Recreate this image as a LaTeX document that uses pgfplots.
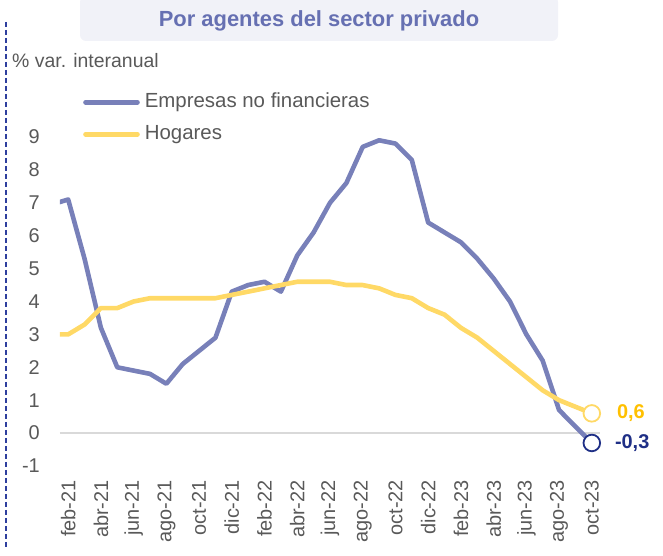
\documentclass[border=0pt]{standalone}
\usepackage{pgfplots}
\pgfplotsset{compat=1.18}
\usepackage{fontspec}
\setmainfont{Liberation Sans}
\definecolor{blueline}{HTML}{7880B9}
\definecolor{yellowline}{HTML}{FFD966}
\definecolor{titlecol}{HTML}{6670B2}
\definecolor{titlebox}{HTML}{F1F2F8}
\definecolor{navy}{HTML}{1F2F86}
\definecolor{orangelab}{HTML}{FFC000}
\definecolor{txt}{HTML}{595959}
\definecolor{dashcol}{HTML}{2E3F9E}
\definecolor{zeroline}{HTML}{D9D9D9}
\begin{document}
\begin{tikzpicture}
\path[use as bounding box] (0,0) rectangle (663bp,556bp);
% title box
\fill[titlebox, rounded corners=6bp] (80bp,515bp) rectangle (558bp,560bp);
\node[font=\fontsize{22}{24}\selectfont\bfseries, text=titlecol, anchor=base] at (319bp,529bp) {Por agentes del sector privado};
% dashed vertical line
\draw[dashcol, line width=1.3bp, dash pattern=on 5bp off 3bp] (6bp,534bp) -- (6bp,8bp);
% y label
\node[font=\fontsize{19.5}{22}\selectfont, text=txt, anchor=west, inner sep=0pt] at (12bp,495bp) {\% var. interanual};
\begin{axis}[
  at={(60bp,90bp)}, anchor=south west,
  scale only axis, width=540bp, height=329bp,
  xmin=-0.5, xmax=32.5, ymin=-1, ymax=9,
  axis line style={draw=none},
  clip=true,
  xtick={0,2,...,32},
  xticklabels={feb-21,abr-21,jun-21,ago-21,oct-21,dic-21,feb-22,abr-22,jun-22,ago-22,oct-22,dic-22,feb-23,abr-23,jun-23,ago-23,oct-23},
  ytick={-1,0,...,9},
  yticklabels={-1,0,1,2,3,4,5,6,7,8,9},
  major tick length=0pt,
  tick style={draw=none},
  xtick pos=bottom, ytick pos=left,
  tick label style={font=\fontsize{20}{22}\selectfont, text=txt},
  xticklabel style={rotate=90, anchor=east, inner sep=0pt},
  xticklabel shift=14bp,
  yticklabel style={anchor=east, inner sep=0pt},
  yticklabel shift=20bp,
  legend cell align=left,
  legend style={at={(axis description cs:0.0426,1.1337)}, anchor=north west, draw=none, fill=none,
    inner sep=0pt, row sep=14bp, column sep=5bp,
    font=\fontsize{20.5}{22}\selectfont, text=txt,
    nodes={inner sep=0pt, text height=14bp, text depth=4bp}},
  legend image code/.code={\draw[#1, line cap=round] (0bp,0bp) -- (52bp,0bp);},
]
\draw[zeroline, line width=1.8bp] (axis cs:-0.5,0) -- (axis cs:32.5,0);
\addplot[blueline, line width=4.6bp, line join=round] coordinates {
(-1,6.95)(0,7.1)(1,5.3)(2,3.2)(3,2.0)(4,1.9)(5,1.8)(6,1.5)(7,2.1)(8,2.5)(9,2.9)
(10,4.3)(11,4.5)(12,4.6)(13,4.3)(14,5.4)(15,6.1)(16,7.0)(17,7.6)(18,8.7)(19,8.9)
(20,8.8)(21,8.3)(22,6.4)(23,6.1)(24,5.8)(25,5.3)(26,4.7)(27,4.0)(28,3.0)(29,2.2)
(30,0.7)(31,0.2)(32,-0.3)};
\addlegendentry{Empresas no financieras}
\addplot[yellowline, line width=4.6bp, line join=round] coordinates {
(-1,3.0)(0,3.0)(1,3.3)(2,3.8)(3,3.8)(4,4.0)(5,4.1)(6,4.1)(7,4.1)(8,4.1)(9,4.1)
(10,4.2)(11,4.3)(12,4.4)(13,4.5)(14,4.6)(15,4.6)(16,4.6)(17,4.5)(18,4.5)(19,4.4)
(20,4.2)(21,4.1)(22,3.8)(23,3.6)(24,3.2)(25,2.9)(26,2.5)(27,2.1)(28,1.7)(29,1.3)
(30,1.0)(31,0.8)(32,0.6)};
\addlegendentry{Hogares}
\addplot[only marks, mark=*, mark size=8.3bp, mark options={draw=yellowline, fill=white, line width=1.8bp}, forget plot] coordinates {(32,0.6)};
\addplot[only marks, mark=*, mark size=8.3bp, mark options={draw=navy, fill=white, line width=1.8bp}, forget plot] coordinates {(32,-0.3)};
\coordinate (lab1) at (axis cs:32,0.6);
\coordinate (lab2) at (axis cs:32,-0.3);
\end{axis}
\node[anchor=west, inner sep=0pt, font=\fontsize{20}{22}\selectfont\bfseries, text=orangelab] at ([xshift=25bp]lab1) {0,6};
\node[anchor=west, inner sep=0pt, font=\fontsize{20}{22}\selectfont\bfseries, text=navy] at ([xshift=23bp]lab2) {-0,3};
\end{tikzpicture}
\end{document}
